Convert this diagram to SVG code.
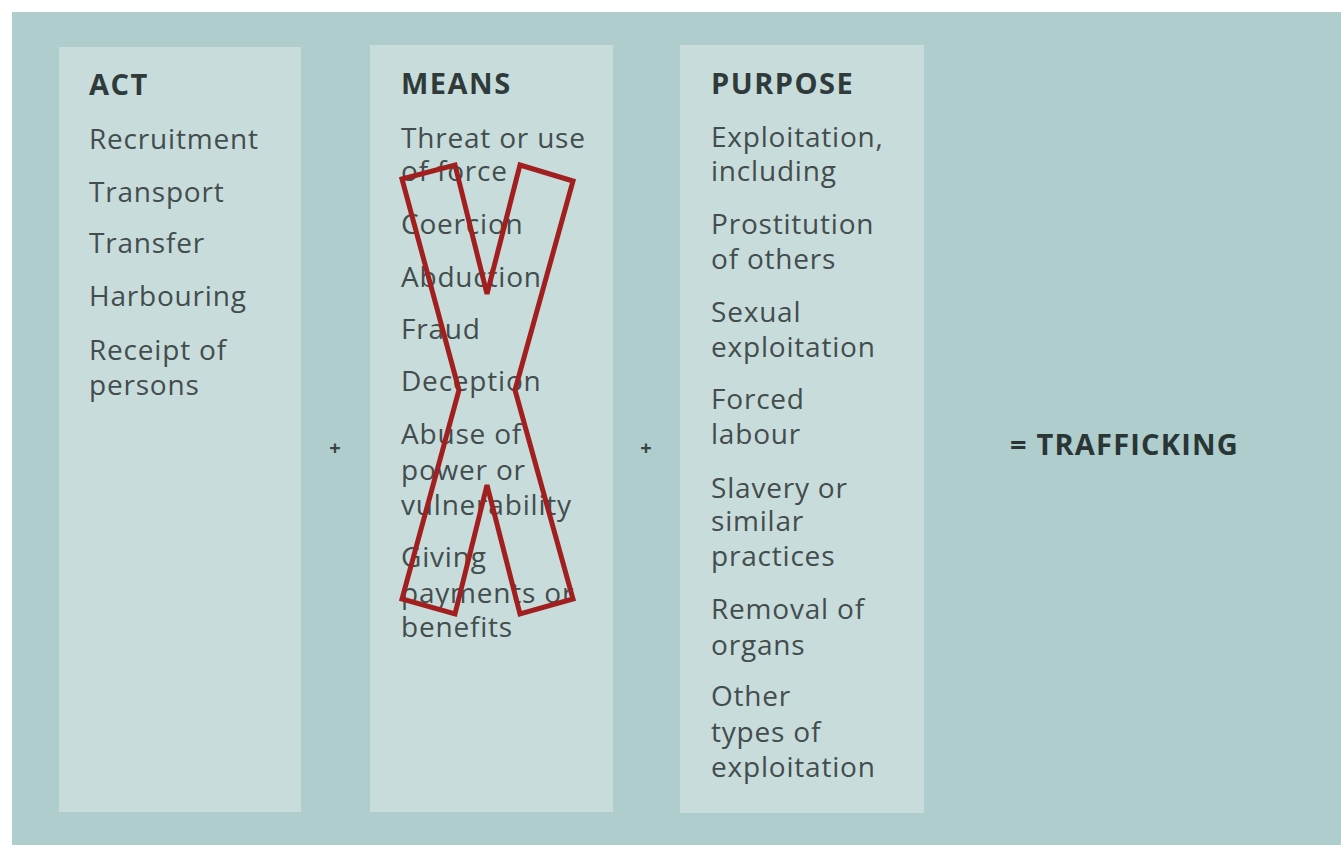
<svg xmlns="http://www.w3.org/2000/svg" width="1341" height="845" viewBox="0 0 1341 845">
  <style>
    .panel { fill: #c8dcdc; }
    .head { font-family: "Open Sans", "Liberation Sans", sans-serif; font-weight: bold; font-size: 29px; fill: #2f3a3a; letter-spacing: 1.5px; }
    .item { font-family: "Open Sans", "Liberation Sans", sans-serif; font-size: 28px; fill: #434d4d; letter-spacing: 0.8px; }
    .op { font-family: "Open Sans", "Liberation Sans", sans-serif; font-weight: bold; font-size: 20px; fill: #3a4444; }
    .result { font-family: "Open Sans", "Liberation Sans", sans-serif; font-weight: bold; font-size: 29px; fill: #2a3535; letter-spacing: 1.2px; }
    .cross { fill: none; stroke: #a21f1f; stroke-width: 5; stroke-linejoin: miter; }
  </style>
  <rect x="0" y="0" width="1341" height="845" fill="#ffffff"/>
  <rect x="12" y="12" width="1329" height="833" fill="#afcdcd"/>

  <g id="act">
    <rect class="panel" x="59" y="47" width="242" height="765"/>
    <text class="head" x="89" y="95">ACT</text>
    <text class="item" x="89" y="149">Recruitment</text>
    <text class="item" x="89" y="202">Transport</text>
    <text class="item" x="89" y="253">Transfer</text>
    <text class="item" x="89" y="306">Harbouring</text>
    <text class="item" x="89" y="360">Receipt of</text>
    <text class="item" x="89" y="395">persons</text>
  </g>

  <g id="plus-1">
    <text class="op" x="335" y="455" text-anchor="middle">+</text>
  </g>

  <g id="means">
    <rect class="panel" x="370" y="45" width="243" height="767"/>
    <text class="head" x="401" y="94">MEANS</text>
    <text class="item" x="401" y="148">Threat or use</text>
    <text class="item" x="401" y="181">of force</text>
    <text class="item" x="401" y="234">Coercion</text>
    <text class="item" x="401" y="287">Abduction</text>
    <text class="item" x="401" y="339">Fraud</text>
    <text class="item" x="401" y="391">Deception</text>
    <text class="item" x="401" y="444">Abuse of</text>
    <text class="item" x="401" y="480">power or</text>
    <text class="item" x="401" y="515">vulnerability</text>
    <text class="item" x="401" y="567">Giving</text>
    <text class="item" x="401" y="603">payments or</text>
    <text class="item" x="401" y="637">benefits</text>
    <!-- struck-through outline cross over the means column -->
    <polygon class="cross" points="402,179 455,165 487,294 520,165 573,181 515,390 573,599 520,614 487,485 455,614 402,599 459,390"/>
  </g>

  <g id="plus-2">
    <text class="op" x="646" y="455" text-anchor="middle">+</text>
  </g>

  <g id="purpose">
    <rect class="panel" x="680" y="45" width="244" height="768"/>
    <text class="head" x="711" y="94">PURPOSE</text>
    <text class="item" x="711" y="147">Exploitation,</text>
    <text class="item" x="711" y="181">including</text>
    <text class="item" x="711" y="234">Prostitution</text>
    <text class="item" x="711" y="269">of others</text>
    <text class="item" x="711" y="322">Sexual</text>
    <text class="item" x="711" y="357">exploitation</text>
    <text class="item" x="711" y="409">Forced</text>
    <text class="item" x="711" y="444">labour</text>
    <text class="item" x="711" y="498">Slavery or</text>
    <text class="item" x="711" y="531">similar</text>
    <text class="item" x="711" y="566">practices</text>
    <text class="item" x="711" y="619">Removal of</text>
    <text class="item" x="711" y="655">organs</text>
    <text class="item" x="711" y="706">Other</text>
    <text class="item" x="711" y="742">types of</text>
    <text class="item" x="711" y="777">exploitation</text>
  </g>

  <g id="result">
    <text class="result" x="1010" y="455">= TRAFFICKING</text>
  </g>
</svg>
